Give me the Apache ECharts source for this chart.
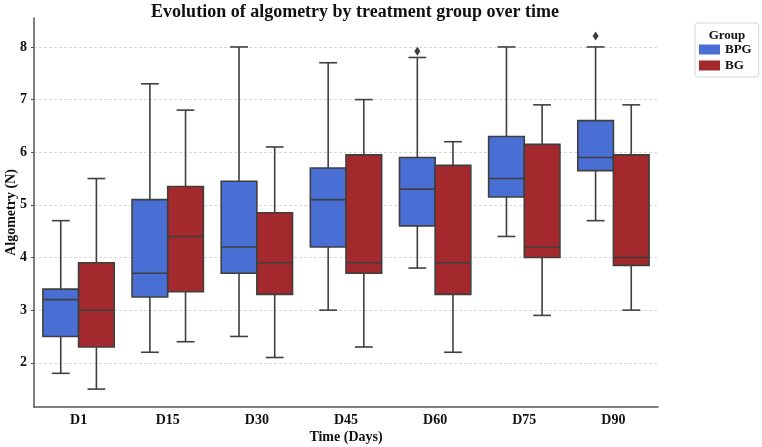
<!DOCTYPE html>
<html>
<head>
<meta charset="utf-8">
<script src="https://cdn.jsdelivr.net/npm/echarts@6/dist/echarts.min.js"></script>
<style>
  html, body { margin: 0; padding: 0; background: #fff; }
  #chart { width: 762px; height: 447px; }
</style>
</head>
<body>
<div id="chart"></div>
<script>
// time points
var days = ['D1', 'D15', 'D30', 'D45', 'D60', 'D75', 'D90'];
// [min, q1, median, q3, max] per day
var bpgStats = [
    [1.8, 2.5, 3.2, 3.4, 4.7],
    [2.2, 3.25, 3.7, 5.1, 7.3],
    [2.5, 3.7, 4.2, 5.45, 8.0],
    [3.0, 4.2, 5.1, 5.7, 7.7],
    [3.8, 4.6, 5.3, 5.9, 7.8],
    [4.4, 5.15, 5.5, 6.3, 8.0],
    [4.7, 5.65, 5.9, 6.6, 8.0]
];
var bgStats = [
    [1.5, 2.3, 3.0, 3.9, 5.5],
    [2.4, 3.35, 4.4, 5.35, 6.8],
    [2.1, 3.3, 3.9, 4.85, 6.1],
    [2.3, 3.7, 3.9, 5.95, 7.0],
    [2.2, 3.3, 3.9, 5.75, 6.2],
    [2.9, 4.0, 4.2, 6.15, 6.9],
    [3.0, 3.85, 4.0, 5.95, 6.9]
];
// outliers: [day index, value]
var bpgOutliers = [[4, 7.92], [6, 8.21]];
var bgOutliers = [];

var blue = '#4a6fd4';
var red = '#a3292d';
var edge = '#3f3f3f';
var font = 'Liberation Serif';

function toRows(stats) {
    return stats.map(function (s, i) { return [i].concat(s); });
}

// draws one box (whiskers, caps, box, median), shifted left or right within the band
function boxRenderer(side, color) {
    return function (params, api) {
        var i = api.value(0);
        var band = api.size([1, 0])[0];
        var w = band * 0.4;
        var cx = api.coord([i, 0])[0] + side * band * 0.2;
        var yMin = api.coord([i, api.value(1)])[1];
        var yQ1 = api.coord([i, api.value(2)])[1];
        var yMed = api.coord([i, api.value(3)])[1];
        var yQ3 = api.coord([i, api.value(4)])[1];
        var yMax = api.coord([i, api.value(5)])[1];
        var cap = w * 0.25;
        var ls = { stroke: edge, lineWidth: 1.6 };
        return {
            type: 'group',
            children: [
                { type: 'line', shape: { x1: cx, y1: yQ1, x2: cx, y2: yMin }, style: ls },
                { type: 'line', shape: { x1: cx, y1: yQ3, x2: cx, y2: yMax }, style: ls },
                { type: 'line', shape: { x1: cx - cap, y1: yMin, x2: cx + cap, y2: yMin }, style: ls },
                { type: 'line', shape: { x1: cx - cap, y1: yMax, x2: cx + cap, y2: yMax }, style: ls },
                { type: 'rect', shape: { x: cx - w / 2, y: yQ3, width: w, height: yQ1 - yQ3 },
                  style: { fill: color, stroke: edge, lineWidth: 1.6 } },
                { type: 'line', shape: { x1: cx - w / 2, y1: yMed, x2: cx + w / 2, y2: yMed }, style: ls }
            ]
        };
    };
}

function outlierRenderer(side) {
    return function (params, api) {
        var i = api.value(0);
        var band = api.size([1, 0])[0];
        var p = api.coord([i, api.value(1)]);
        var x = p[0] + side * band * 0.2;
        var y = p[1];
        return {
            type: 'polygon',
            shape: { points: [[x, y - 4.5], [x + 3, y], [x, y + 4.5], [x - 3, y]] },
            style: { fill: edge }
        };
    };
}

var chart = echarts.init(document.getElementById('chart'));
var option = {
    backgroundColor: '#fff',
    animation: false,
    title: [
        {
            text: 'Evolution of algometry by treatment group over time',
            left: 355, top: 3, padding: 0, textAlign: 'center',
            textStyle: { fontFamily: font, fontWeight: 'bold', fontSize: 18, color: '#111' }
        },
        {
            text: 'Group',
            left: 727, top: 29, padding: 0, textAlign: 'center',
            textStyle: { fontFamily: font, fontWeight: 'bold', fontSize: 13, color: '#111' }
        }
    ],
    legend: {
        data: ['BPG', 'BG'],
        orient: 'vertical',
        left: 695, top: 23,
        padding: [20, 7, 5, 4],
        itemGap: 3,
        itemWidth: 21, itemHeight: 10,
        borderColor: '#d8d8d8', borderWidth: 1, borderRadius: 3,
        icon: 'rect',
        textStyle: { fontFamily: font, fontWeight: 'bold', fontSize: 13, color: '#111' }
    },
    grid: { left: 34, right: 104, top: 18, bottom: 40, outerBoundsMode: 'none', containLabel: false },
    xAxis: {
        type: 'category',
        data: days,
        name: 'Time (Days)',
        nameLocation: 'middle',
        nameGap: 23,
        nameMoveOverlap: false,
        nameTextStyle: { fontFamily: font, fontWeight: 'bold', fontSize: 14, color: '#111' },
        axisLine: { lineStyle: { color: '#555', width: 1.5 } },
        axisTick: { alignWithLabel: true, length: 4, lineStyle: { color: '#555' } },
        axisLabel: { fontFamily: font, fontWeight: 'bold', fontSize: 14, color: '#111', margin: 6 },
        splitLine: { show: false }
    },
    yAxis: {
        type: 'value',
        min: 1.16, max: 8.55,
        minInterval: 1, maxInterval: 1,
        name: 'Algometry (N)',
        nameLocation: 'middle',
        nameGap: 16,
        nameMoveOverlap: false,
        nameTextStyle: { fontFamily: font, fontWeight: 'bold', fontSize: 14, color: '#111' },
        axisLine: { show: true, lineStyle: { color: '#555', width: 1.5 } },
        axisTick: { show: true, length: 3, lineStyle: { color: '#555' } },
        axisLabel: {
            fontFamily: font, fontWeight: 'bold', fontSize: 14, color: '#111', margin: 7,
            showMinLabel: false, showMaxLabel: false
        },
        splitLine: {
            show: true, showMinLine: false, showMaxLine: false,
            lineStyle: { color: '#d9d9d9', type: [3, 2], width: 1 }
        }
    },
    series: [
        {
            name: 'BPG', type: 'custom',
            renderItem: boxRenderer(-1, blue),
            itemStyle: { color: blue },
            encode: { x: 0, y: [1, 2, 3, 4, 5] },
            data: toRows(bpgStats), z: 2
        },
        {
            name: 'BG', type: 'custom',
            renderItem: boxRenderer(1, red),
            itemStyle: { color: red },
            encode: { x: 0, y: [1, 2, 3, 4, 5] },
            data: toRows(bgStats), z: 2
        },
        {
            name: 'BPG outliers', type: 'custom',
            renderItem: outlierRenderer(-1),
            encode: { x: 0, y: 1 },
            data: bpgOutliers, z: 3
        },
        {
            name: 'BG outliers', type: 'custom',
            renderItem: outlierRenderer(1),
            encode: { x: 0, y: 1 },
            data: bgOutliers, z: 3
        }
    ]
};
chart.setOption(option);
</script>
</body>
</html>
